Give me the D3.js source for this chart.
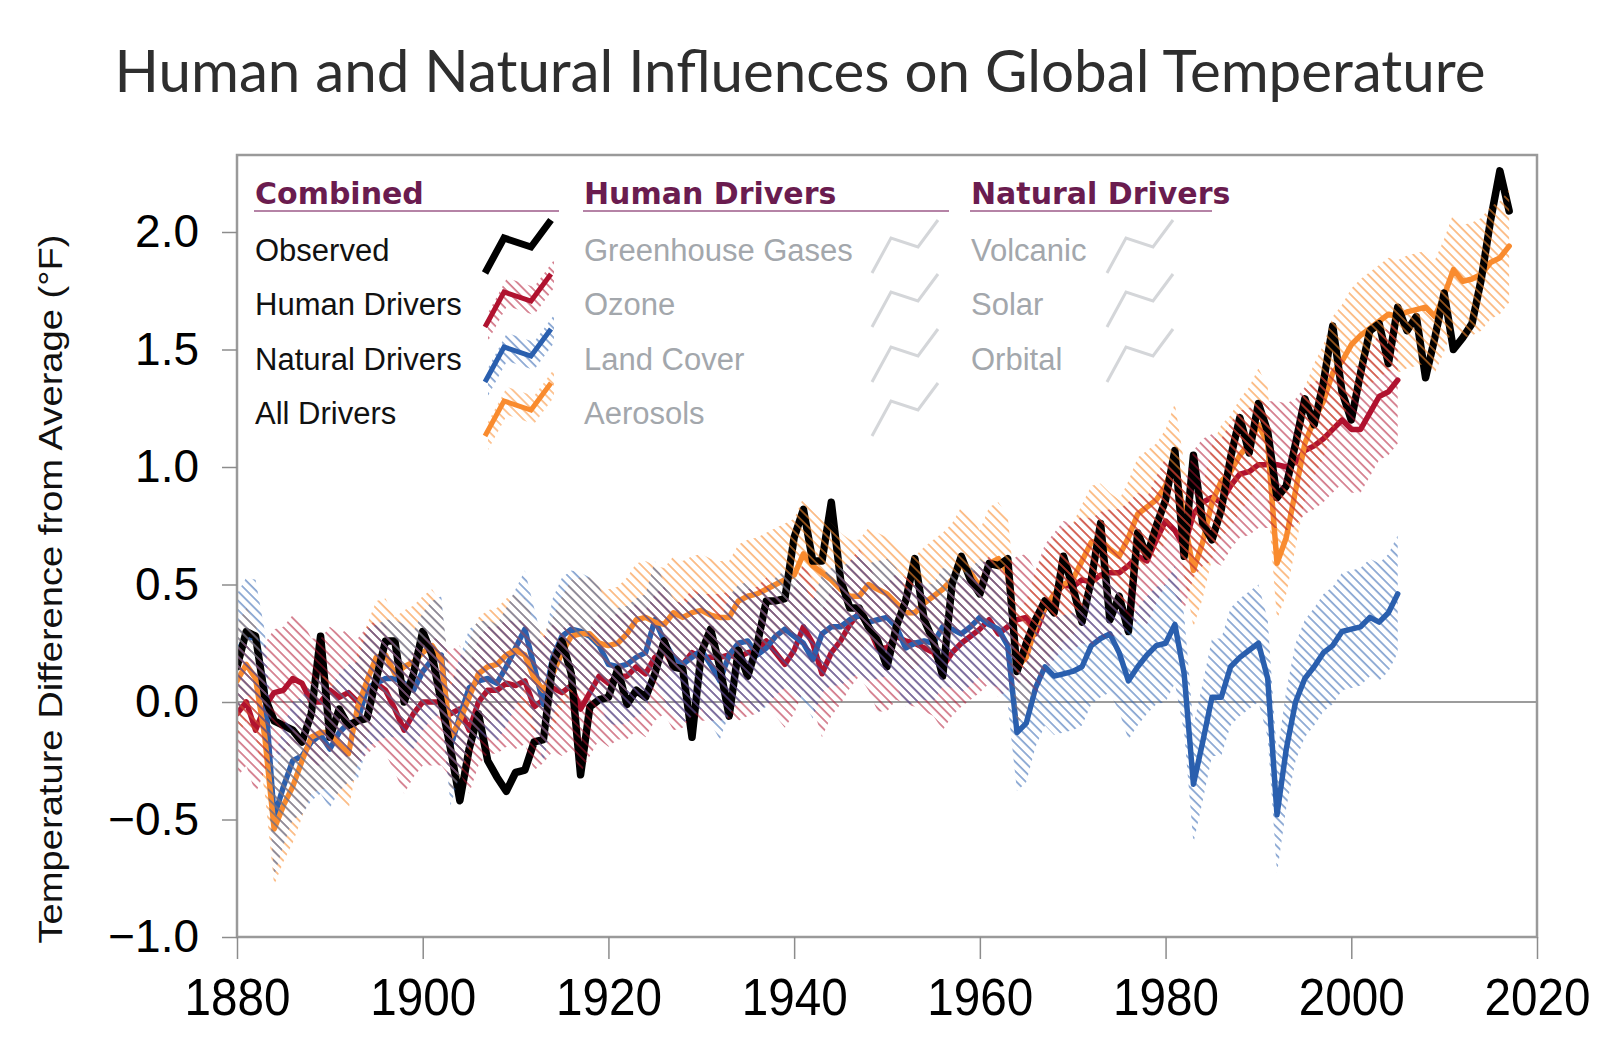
<!DOCTYPE html>
<html>
<head>
<meta charset="utf-8">
<script src="https://cdn.jsdelivr.net/npm/d3@7"></script>
<style>
  body { margin: 0; background: #fff; }
  svg { display: block; }
</style>
</head>
<body>
<svg width="1600" height="1046"></svg>
<script>
// data (°F, difference from average)
var firstYear = 1880;

var observed = [
  0.15, 0.30, 0.28, 0.02, -0.08, -0.10, -0.12, -0.17, -0.05, 0.28,
  -0.15, -0.03, -0.10, -0.08, -0.07, 0.10, 0.26, 0.26, 0.00, 0.12,
  0.30, 0.20, 0.00, -0.20, -0.42, -0.20, -0.05, -0.25, -0.32, -0.38,
  -0.30, -0.29, -0.17, -0.16, 0.16, 0.26, 0.12, -0.31, -0.02, 0.01,
  0.02, 0.14, -0.01, 0.05, 0.02, 0.12, 0.26, 0.15, 0.14, -0.15,
  0.21, 0.31, 0.15, -0.06, 0.22, 0.11, 0.24, 0.43, 0.43, 0.44,
  0.70, 0.82, 0.60, 0.60, 0.85, 0.52, 0.40, 0.40, 0.32, 0.26,
  0.15, 0.32, 0.43, 0.61, 0.35, 0.26, 0.11, 0.50, 0.62, 0.52,
  0.46, 0.59, 0.58, 0.61, 0.13, 0.25, 0.35, 0.43, 0.38, 0.62,
  0.49, 0.34, 0.52, 0.76, 0.35, 0.45, 0.30, 0.72, 0.62, 0.75,
  0.86, 1.07, 0.62, 1.05, 0.76, 0.69, 0.82, 1.04, 1.21, 1.06,
  1.27, 1.15, 0.87, 0.92, 1.10, 1.29, 1.18, 1.36, 1.60, 1.32,
  1.20, 1.40, 1.58, 1.61, 1.44, 1.68, 1.58, 1.64, 1.38, 1.55,
  1.74, 1.50, 1.55, 1.61, 1.80, 2.05, 2.26, 2.09
];

var humanDrivers = [
  -0.05, 0.00, -0.12, -0.02, 0.04, 0.05, 0.10, 0.08, 0.00, 0.00,
  0.05, 0.02, 0.04, 0.00, 0.05, 0.08, 0.05, -0.03, -0.12, -0.05,
  0.00, 0.00, 0.00, -0.05, -0.03, -0.12, 0.00, 0.05, 0.05, 0.08,
  0.07, 0.09, -0.02, 0.01, 0.06, 0.04, 0.07, -0.03, 0.04, 0.11,
  0.08, 0.11, 0.11, 0.15, 0.12, 0.19, 0.22, 0.15, 0.16, 0.21,
  0.19, 0.19, 0.19, 0.20, 0.19, 0.21, 0.22, 0.26, 0.21, 0.16,
  0.22, 0.32, 0.25, 0.12, 0.21, 0.26, 0.33, 0.38, 0.32, 0.23,
  0.23, 0.28, 0.26, 0.25, 0.23, 0.21, 0.15, 0.21, 0.25, 0.28,
  0.31, 0.35, 0.29, 0.32, 0.35, 0.36, 0.29, 0.40, 0.45, 0.50,
  0.49, 0.52, 0.51, 0.54, 0.55, 0.55, 0.58, 0.62, 0.60, 0.69,
  0.77, 0.73, 0.66, 0.80, 0.85, 0.87, 0.85, 0.92, 0.97, 0.98,
  1.01, 1.01, 1.01, 1.00, 1.02, 1.07, 1.09, 1.12, 1.16, 1.20,
  1.16, 1.16, 1.23, 1.30, 1.32, 1.37
];

var naturalDrivers = [
  0.21, 0.28, 0.27, 0.05, -0.49, -0.36, -0.25, -0.23, -0.17, -0.14,
  -0.20, -0.13, -0.09, -0.08, 0.06, 0.08, 0.10, 0.10, 0.08, 0.05,
  0.13, 0.18, 0.20, -0.19, -0.06, 0.06, 0.09, 0.10, 0.08, 0.15,
  0.23, 0.31, 0.15, -0.01, 0.19, 0.28, 0.31, 0.30, 0.28, 0.24,
  0.16, 0.15, 0.16, 0.19, 0.21, 0.35, 0.26, 0.19, 0.16, 0.19,
  0.22, 0.16, 0.09, 0.20, 0.25, 0.26, 0.20, 0.23, 0.28, 0.31,
  0.28, 0.25, 0.18, 0.29, 0.32, 0.32, 0.35, 0.37, 0.34, 0.35,
  0.36, 0.32, 0.23, 0.25, 0.26, 0.25, 0.32, 0.31, 0.29, 0.32,
  0.36, 0.33, 0.31, 0.24, -0.13, -0.09, 0.06, 0.15, 0.11, 0.12,
  0.13, 0.15, 0.24, 0.27, 0.29, 0.21, 0.09, 0.15, 0.20, 0.24,
  0.25, 0.33, 0.12, -0.35, -0.17, 0.02, 0.02, 0.15, 0.19, 0.22,
  0.25, 0.10, -0.48, -0.20, 0.00, 0.10, 0.15, 0.21, 0.24, 0.30,
  0.31, 0.32, 0.36, 0.34, 0.38, 0.46
];

var allDrivers = [
  0.09, 0.16, 0.10, -0.15, -0.54, -0.44, -0.36, -0.25, -0.15, -0.13,
  -0.13, -0.18, -0.22, -0.02, 0.09, 0.19, 0.20, 0.12, 0.15, 0.17,
  0.21, 0.24, 0.18, -0.15, -0.08, 0.02, 0.12, 0.15, 0.16, 0.20,
  0.22, 0.20, 0.10, 0.05, 0.12, 0.21, 0.28, 0.29, 0.29, 0.25,
  0.24, 0.25, 0.29, 0.35, 0.36, 0.34, 0.33, 0.38, 0.36, 0.38,
  0.39, 0.37, 0.36, 0.36, 0.43, 0.45, 0.46, 0.48, 0.50, 0.52,
  0.54, 0.63, 0.58, 0.55, 0.52, 0.48, 0.45, 0.45, 0.50, 0.48,
  0.46, 0.42, 0.38, 0.38, 0.42, 0.45, 0.48, 0.52, 0.59, 0.55,
  0.49, 0.59, 0.61, 0.55, 0.15, 0.19, 0.32, 0.40, 0.46, 0.50,
  0.52, 0.60, 0.68, 0.69, 0.65, 0.62, 0.70, 0.80, 0.83, 0.86,
  0.92, 1.03, 0.78, 0.56, 0.68, 0.85, 0.94, 0.98, 1.05, 1.10,
  1.18, 1.10, 0.59, 0.70, 0.90, 1.10, 1.20, 1.28, 1.40, 1.45,
  1.52, 1.56, 1.59, 1.62, 1.65, 1.64, 1.66, 1.67, 1.68, 1.64,
  1.73, 1.84, 1.79, 1.80, 1.82, 1.87, 1.89, 1.94
];

// half width of the hatched uncertainty range for each model series
var humanSpread = 0.27;
var naturalSpread = 0.25;
var allSpread = 0.24;

var xTicks = [1880, 1900, 1920, 1940, 1960, 1980, 2000, 2020];
var yTicks = [-1.0, -0.5, 0.0, 0.5, 1.0, 1.5, 2.0];

var combinedItems = ["Observed", "Human Drivers", "Natural Drivers", "All Drivers"];
var humanItems = ["Greenhouse Gases", "Ozone", "Land Cover", "Aerosols"];
var naturalItems = ["Volcanic", "Solar", "Orbital"];

var color = {
  observed: "#000000",
  human: "#b0122f",
  natural: "#2a5fae",
  all: "#f98b2e",
  header: "#6a1c4f",
  headerLine: "#b583a6",
  faded: "#a3a7ac",
  fadedLine: "#d4d6d9",
  frame: "#9a9a9a",
  text: "#111111"
};

var plot = {left: 237, right: 1537, top: 155, bottom: 937};

var svg = d3.select("svg");

var x = d3.scaleLinear().domain([1880, 2020]).range([plot.left, plot.right]);
var y = d3.scaleLinear().domain([-1, 2]).range([plot.bottom, 232]);

function toPoints(values) {
  return values.map(function(v, i) { return {year: firstYear + i, v: v}; });
}

// hatch patterns, all in the same phase so overlapping bands mix on the same lines
var defs = svg.append("defs");
function hatch(id, c) {
  var p = defs.append("pattern")
    .attr("id", id)
    .attr("patternUnits", "userSpaceOnUse")
    .attr("width", 6.6)
    .attr("height", 6.6)
    .attr("patternTransform", "rotate(-45)");
  p.append("line")
    .attr("x1", 1).attr("y1", 0)
    .attr("x2", 1).attr("y2", 6.6)
    .attr("stroke", c)
    .attr("stroke-width", 1.8);
}
hatch("hatchHuman", color.human);
hatch("hatchNatural", color.natural);
hatch("hatchAll", color.all);

defs.append("clipPath").attr("id", "plotClip")
  .append("rect")
  .attr("x", plot.left).attr("y", plot.top)
  .attr("width", plot.right - plot.left)
  .attr("height", plot.bottom - plot.top);

// title
svg.append("text")
  .attr("x", 800)
  .attr("y", 92)
  .attr("text-anchor", "middle")
  .attr("font-family", "Lato, 'Open Sans', sans-serif")
  .attr("font-size", 58)
  .attr("fill", "#2e2e2e")
  .attr("textLength", 1371)
  .attr("lengthAdjust", "spacingAndGlyphs")
  .text("Human and Natural Influences on Global Temperature");

// zero line
svg.append("line")
  .attr("x1", plot.left).attr("x2", plot.right)
  .attr("y1", y(0)).attr("y2", y(0))
  .attr("stroke", "#9c9c9c")
  .attr("stroke-width", 2);

var body = svg.append("g").attr("clip-path", "url(#plotClip)");

var line = d3.line()
  .x(function(d) { return x(d.year); })
  .y(function(d) { return y(d.v); })
  .curve(d3.curveLinear);

function band(values, spread) {
  return d3.area()
    .x(function(d) { return x(d.year); })
    .y0(function(d) { return y(d.v - spread); })
    .y1(function(d) { return y(d.v + spread); })(toPoints(values));
}

// lines
[
  {data: humanDrivers, c: color.human, w: 5.5},
  {data: naturalDrivers, c: color.natural, w: 5.5},
  {data: allDrivers, c: color.all, w: 5.5},
  {data: observed, c: color.observed, w: 7.5}
].forEach(function(s) {
  body.append("path")
    .attr("d", line(toPoints(s.data)))
    .attr("fill", "none")
    .attr("stroke", s.c)
    .attr("stroke-width", s.w)
    .attr("stroke-linejoin", "round")
    .attr("stroke-linecap", "round");
});

// hatched ranges sit over the lines, like in the original (orange, then red, then blue)
body.append("path").attr("d", band(allDrivers, allSpread))
  .attr("fill", "url(#hatchAll)").attr("opacity", 0.6);
body.append("path").attr("d", band(humanDrivers, humanSpread))
  .attr("fill", "url(#hatchHuman)").attr("opacity", 0.55);
body.append("path").attr("d", band(naturalDrivers, naturalSpread))
  .attr("fill", "url(#hatchNatural)").attr("opacity", 0.55);

// frame
svg.append("rect")
  .attr("x", plot.left).attr("y", plot.top)
  .attr("width", plot.right - plot.left)
  .attr("height", plot.bottom - plot.top)
  .attr("fill", "none")
  .attr("stroke", color.frame)
  .attr("stroke-width", 2.5);

// axes
var xAxis = svg.append("g")
  .attr("transform", "translate(0," + plot.bottom + ")")
  .call(d3.axisBottom(x).tickValues(xTicks).tickSize(22).tickPadding(19).tickFormat(d3.format("d")));
xAxis.select(".domain").remove();
xAxis.selectAll("line").attr("stroke", "#8c8c8c").attr("stroke-width", 1.5);
xAxis.selectAll("text")
  .attr("font-family", "'Liberation Sans Narrow', 'Arial Narrow', 'Liberation Sans', sans-serif")
  .attr("font-size", 52)
  .attr("textLength", 106)
  .attr("lengthAdjust", "spacingAndGlyphs")
  .attr("fill", "#000");

var yAxis = svg.append("g")
  .attr("transform", "translate(" + plot.left + ",0)")
  .call(d3.axisLeft(y).tickValues(yTicks).tickSize(15).tickPadding(23)
    .tickFormat(function(d) { return d3.format(".1f")(d).replace("-", "\u2212"); }));
yAxis.select(".domain").remove();
yAxis.selectAll("line").attr("stroke", "#8c8c8c").attr("stroke-width", 1.5);
yAxis.selectAll("text")
  .attr("font-family", "'Liberation Sans', Arial, sans-serif")
  .attr("font-size", 46)
  .attr("fill", "#000");

svg.append("text")
  .attr("transform", "translate(62,589) rotate(-90)")
  .attr("text-anchor", "middle")
  .attr("font-family", "'Liberation Sans', Arial, sans-serif")
  .attr("font-size", 34)
  .attr("fill", "#111")
  .attr("textLength", 709)
  .attr("lengthAdjust", "spacingAndGlyphs")
  .text("Temperature Difference from Average (\u00b0F)");

// legend
var rowY = [250, 304, 359, 413];
var zig = [[0, 23], [19, -12], [46, -3], [66, -30]];

function zigPath(x0, yc, off) {
  return d3.line()(zig.map(function(p) { return [x0 + p[0], yc + p[1] + off]; }));
}

function header(label, x0, x1) {
  svg.append("text")
    .attr("x", x0).attr("y", 204)
    .attr("font-family", "'DejaVu Sans', Verdana, sans-serif")
    .attr("font-weight", "bold")
    .attr("font-size", 30)
    .attr("fill", color.header)
    .text(label);
  svg.append("line")
    .attr("x1", x0 - 1).attr("x2", x1)
    .attr("y1", 211).attr("y2", 211)
    .attr("stroke", color.headerLine)
    .attr("stroke-width", 2);
}

header("Combined", 255, 559);
header("Human Drivers", 584, 949);
header("Natural Drivers", 971, 1212);

function itemText(label, x0, yc, fill) {
  svg.append("text")
    .attr("x", x0).attr("y", yc)
    .attr("dy", "0.35em")
    .attr("font-family", "'Liberation Sans', Arial, sans-serif")
    .attr("font-size", 31)
    .attr("fill", fill)
    .text(label);
}

var combinedStyle = [
  {c: color.observed, hatch: null, w: 7},
  {c: color.human, hatch: "hatchHuman", w: 5},
  {c: color.natural, hatch: "hatchNatural", w: 5},
  {c: color.all, hatch: "hatchAll", w: 5}
];

combinedItems.forEach(function(label, i) {
  var yc = rowY[i];
  itemText(label, 255, yc, color.text);
  var st = combinedStyle[i];
  var x0 = 485;
  if (st.hatch) {
    var pts = zig.map(function(p) { return [x0 + p[0], yc + p[1]]; });
    var up = pts.map(function(p) { return [p[0] + 3, p[1] - 14]; });
    var down = pts.map(function(p) { return [p[0] + 3, p[1] + 14]; }).reverse();
    svg.append("path")
      .attr("d", d3.line()(up.concat(down)) + "Z")
      .attr("fill", "url(#" + st.hatch + ")")
      .attr("opacity", 0.55);
  }
  svg.append("path")
    .attr("d", zigPath(x0, yc, 0))
    .attr("fill", "none")
    .attr("stroke", st.c)
    .attr("stroke-width", st.w)
    .attr("stroke-linejoin", "miter");
});

humanItems.forEach(function(label, i) {
  itemText(label, 584, rowY[i], color.faded);
  svg.append("path")
    .attr("d", zigPath(872, rowY[i], 0))
    .attr("fill", "none")
    .attr("stroke", color.fadedLine)
    .attr("stroke-width", 3);
});

naturalItems.forEach(function(label, i) {
  itemText(label, 971, rowY[i], color.faded);
  svg.append("path")
    .attr("d", zigPath(1107, rowY[i], 0))
    .attr("fill", "none")
    .attr("stroke", color.fadedLine)
    .attr("stroke-width", 3);
});
</script>
</body>
</html>
